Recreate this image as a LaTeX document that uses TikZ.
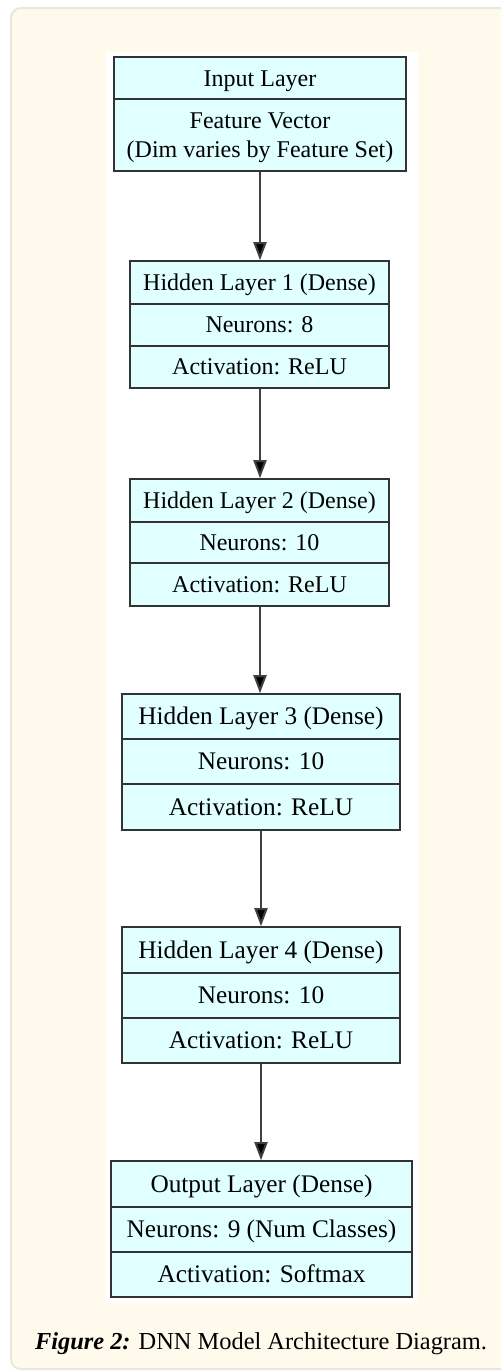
\documentclass[tikz,border=0pt]{standalone}
\usepackage{fontspec}
\setmainfont{Liberation Serif}
\usetikzlibrary{fit,arrows.meta}
\definecolor{card}{HTML}{FFFAEB}
\definecolor{cardline}{HTML}{E8E6DE}
\definecolor{boxfill}{HTML}{E0FFFF}
\definecolor{boxline}{HTML}{333333}
\definecolor{arrline}{HTML}{404040}
\tikzset{
  layer/.style={draw=boxline, fill=boxfill, line width=0.8pt, inner sep=0pt, rectangle},
  divider/.style={draw=boxline, line width=0.8pt},
  txt/.style={anchor=base, inner sep=0pt, font=\fontsize{12}{14}\selectfont},
  txtb/.style={anchor=base, inner sep=0pt, font=\fontsize{12.65}{15}\selectfont},
  arr/.style={draw=arrline, line width=1pt, -{Triangle[length=9pt,width=6.5pt,fill=black]}},
}
\begin{document}
\begin{tikzpicture}[x=0.5pt,y=-0.5pt]
\useasboundingbox (0,0) rectangle (500,1372);
% card and white panel
\fill[card, draw=cardline, line width=1pt, rounded corners=5pt] (11,8) rectangle (520,1369);
\fill[white] (106,52) rectangle (418,1303);

% Input layer
\node[layer, fit={(114,57) (406,171)}] (in) {};
\draw[divider] (114,99) -- (406,99);
\node[txt] (in1) at (260,86) {Input Layer};
\node[txt] (in2) at (260,128) {Feature Vector};
\node[txt] (in3) at (260,157) {(Dim varies by Feature Set)};

% Hidden 1
\node[layer, fit={(130,261) (389,388)}] (h1) {};
\draw[divider] (130,304) -- (389,304);
\draw[divider] (130,346) -- (389,346);
\node[txt] (h1a) at (259.5,290) {Hidden Layer 1 (Dense)};
\node[txt] (h1b) at (259.5,332.5) {Neurons: 8};
\node[txt] (h1c) at (259.5,374.5) {Activation: ReLU};

% Hidden 2
\node[layer, fit={(130,479) (389,606)}] (h2) {};
\draw[divider] (130,522) -- (389,522);
\draw[divider] (130,563) -- (389,563);
\node[txt] (h2a) at (259.5,508) {Hidden Layer 2 (Dense)};
\node[txt] (h2b) at (259.5,550) {Neurons: 10};
\node[txt] (h2c) at (259.5,592) {Activation: ReLU};

% Hidden 3
\node[layer, fit={(122,694) (400,830)}] (h3) {};
\draw[divider] (122,739) -- (400,739);
\draw[divider] (122,784) -- (400,784);
\node[txtb] (h3a) at (261,724.5) {Hidden Layer 3 (Dense)};
\node[txtb] (h3b) at (261,769.5) {Neurons: 10};
\node[txtb] (h3c) at (261,815) {Activation: ReLU};

% Hidden 4
\node[layer, fit={(122,927) (400,1063)}] (h4) {};
\draw[divider] (122,973) -- (400,973);
\draw[divider] (122,1018) -- (400,1018);
\node[txtb] (h4a) at (261,958) {Hidden Layer 4 (Dense)};
\node[txtb] (h4b) at (261,1003.5) {Neurons: 10};
\node[txtb] (h4c) at (261,1048.5) {Activation: ReLU};

% Output
\node[layer, fit={(111,1161) (412,1297)}] (out) {};
\draw[divider] (111,1207) -- (412,1207);
\draw[divider] (111,1252) -- (412,1252);
\node[txtb] (oa) at (261.5,1192) {Output Layer (Dense)};
\node[txtb] (ob) at (261.5,1237.5) {Neurons: 9 (Num Classes)};
\node[txtb] (oc) at (261.5,1282.5) {Activation: Softmax};

% arrows
\draw[arr] (in.south) -- (in.south |- h1.north);
\draw[arr] (h1.south -| in.south) -- (h2.north -| in.south);
\draw[arr] (h2.south -| in.south) -- (h3.north -| in.south);
\draw[arr] (h3.south) -- (h3.south |- h4.north);
\draw[arr] (h4.south) -- (h4.south |- out.north);

% caption
\node[anchor=base, inner sep=0pt, font=\fontsize{12.2}{14}\selectfont] (cap) at (261,1349)
  {\textbf{\textit{Figure 2:}} DNN Model Architecture Diagram.};
\end{tikzpicture}
\end{document}
